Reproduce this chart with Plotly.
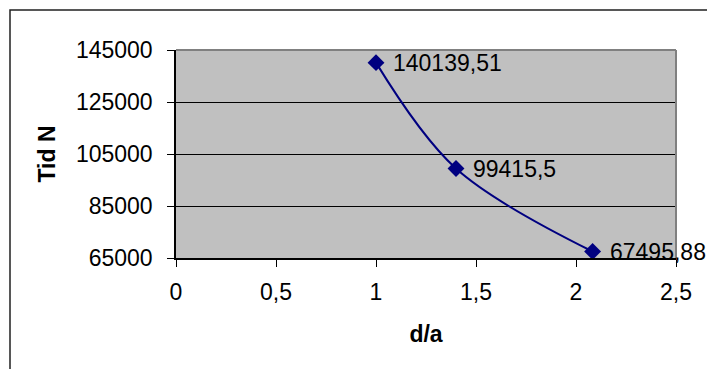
import plotly.graph_objects as go

x_vals = [1.0, 1.4, 2.083]
y_vals = [140139.51, 99415.5, 67495.88]
point_labels = ["140139,51", "99415,5", "67495,88"]
x_ticks = [0, 0.5, 1, 1.5, 2, 2.5]
x_ticktext = ["0", "0,5", "1", "1,5", "2", "2,5"]
y_ticks = [65000, 85000, 105000, 125000, 145000]
y_ticktext = ["65000", "85000", "105000", "125000", "145000"]

FONT = "Arial, 'Liberation Sans', sans-serif"
FS = 23

fig = go.Figure()
fig.add_trace(go.Scatter(
    x=x_vals, y=y_vals, mode="lines+markers",
    line=dict(color="#000080", width=2, shape="spline"),
    marker=dict(symbol="diamond", size=13, color="#000080"),
    cliponaxis=False, showlegend=False, hoverinfo="skip",
))

for xv, yv, t in zip(x_vals, y_vals, point_labels):
    fig.add_annotation(x=xv, y=yv, text=t, showarrow=False, xanchor="left",
                       yanchor="middle", xshift=15,
                       font=dict(family=FONT, size=FS, color="black"))

# plot-area top/right grey border
fig.add_shape(type="line", xref="paper", yref="paper", x0=0, x1=1, y0=1, y1=1,
              line=dict(color="#808080", width=2), layer="above")
fig.add_shape(type="line", xref="paper", yref="paper", x0=1, x1=1, y0=0, y1=1,
              line=dict(color="#808080", width=2), layer="above")
# outer chart border
fig.add_shape(type="rect", xref="paper", yref="paper",
              x0=-0.332, x1=1.2, y0=-0.7, y1=1.1923,
              line=dict(color="#202020", width=1.5), layer="below")

fig.update_layout(
    width=707, height=369,
    margin=dict(l=176, r=31, t=50, b=111),
    paper_bgcolor="white", plot_bgcolor="#C0C0C0",
    font=dict(family=FONT, size=FS, color="black"),
    xaxis=dict(range=[0, 2.5], tickvals=x_ticks, ticktext=x_ticktext,
               showgrid=False, zeroline=False, showline=True,
               linecolor="black", linewidth=1.5, ticks="outside", ticklen=7,
               tickcolor="black", tickfont=dict(size=FS), ticklabelstandoff=6,
               title=dict(text="<b>d/a</b>", font=dict(size=FS), standoff=22)),
    yaxis=dict(range=[65000, 145000], tickvals=y_ticks, ticktext=y_ticktext,
               showgrid=True, gridcolor="black", gridwidth=1, zeroline=False,
               showline=True, linecolor="black", linewidth=1.5,
               ticks="outside", ticklen=7, tickcolor="black",
               tickfont=dict(size=FS), ticklabelstandoff=10,
               title=dict(text="<b>Tid N</b>", font=dict(size=FS), standoff=14)),
)

fig.write_html("out.html")
